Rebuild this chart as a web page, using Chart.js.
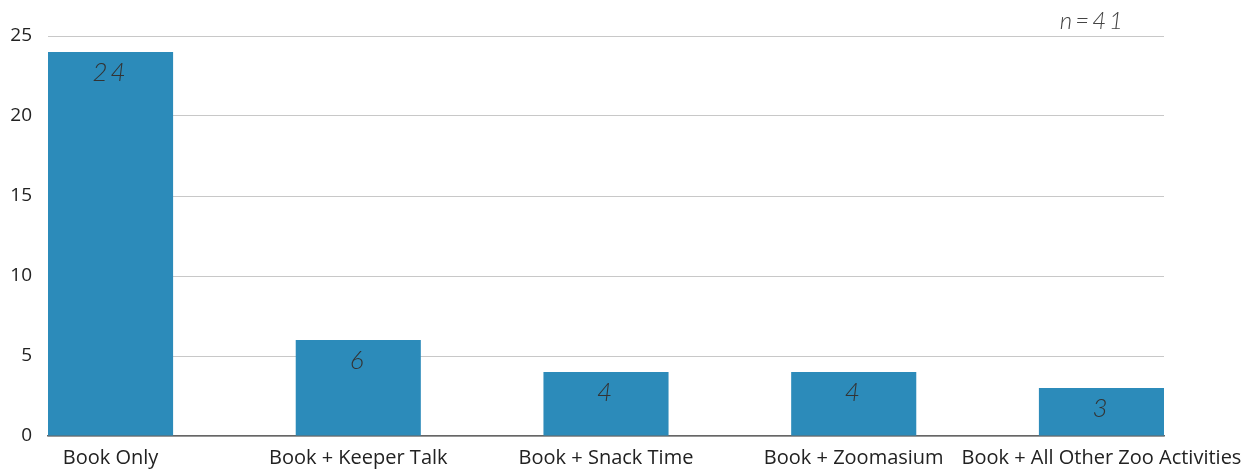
<!DOCTYPE html>
<html>
<head>
<meta charset="utf-8">
<script src="https://cdn.jsdelivr.net/npm/chart.js@4"></script>
<style>
  html, body { margin: 0; padding: 0; background: #fff; }
  #wrap { width: 1246px; height: 473px; }
</style>
</head>
<body>
<div id="wrap"><canvas id="barChart"></canvas></div>
<script>
// Chart data
const categories = ['Book Only', 'Book + Keeper Talk', 'Book + Snack Time', 'Book + Zoomasium', 'Book + All Other Zoo Activities'];
const counts = [24, 6, 4, 4, 3];
const yTicks = [0, 5, 10, 15, 20, 25];
const sampleNote = 'n=41';

// labels inside the bars + sample size note
const valueLabels = {
    id: 'valueLabels',
    afterDatasetsDraw(chart) {
        const ctx = chart.ctx;
        const meta = chart.getDatasetMeta(0);
        ctx.save();
        ctx.fillStyle = '#333';
        ctx.font = 'italic 300 26px Lato';
        ctx.textAlign = 'center';
        ctx.textBaseline = 'middle';
        if ('letterSpacing' in ctx) ctx.letterSpacing = '3px';
        meta.data.forEach((bar, i) => {
            ctx.fillText(String(counts[i]), bar.x, bar.y + 21);
        });
        ctx.font = 'italic 300 24px Lato';
        ctx.fillStyle = '#444';
        ctx.textAlign = 'right';
        ctx.fillText(sampleNote, chart.chartArea.right - 38, 21);
        ctx.restore();
    }
};

new Chart(document.getElementById('barChart').getContext('2d'), {
    type: 'bar',
    data: {
        datasets: [{
            data: counts.map((v, i) => ({ x: i, y: v })),
            backgroundColor: '#2c8bba',
            borderWidth: 0,
            barPercentage: 0.505,
            categoryPercentage: 1
        }]
    },
    options: {
        responsive: true,
        maintainAspectRatio: false,
        animation: false,
        layout: { padding: { left: 0, right: 82, top: 36, bottom: 0 } },
        scales: {
            x: {
                type: 'linear',
                min: -0.2525,
                max: 4.2525,
                offset: false,
                afterBuildTicks: scale => {
                    scale.ticks = categories.map((c, i) => ({ value: i }));
                },
                afterFit: scale => {
                    scale.height = 37;
                    scale.paddingLeft = 0;
                    scale.paddingRight = 0;
                },
                grid: { display: false, drawTicks: false },
                border: { display: true, color: '#666', width: 1.5 },
                ticks: {
                    autoSkip: false,
                    maxRotation: 0,
                    padding: 10,
                    color: '#222',
                    font: { family: 'Open Sans', size: 20 },
                    callback: v => categories[v]
                }
            },
            y: {
                min: 0,
                max: 25,
                afterBuildTicks: scale => {
                    scale.ticks = yTicks.map(v => ({ value: v }));
                },
                afterFit: scale => { scale.width = 48; },
                grid: { color: '#c8c8c8', drawTicks: false },
                border: { display: false },
                ticks: {
                    padding: 16,
                    color: '#222',
                    font: { family: 'Open Sans', size: 19 }
                }
            }
        },
        plugins: {
            legend: { display: false },
            tooltip: { enabled: false }
        }
    },
    plugins: [valueLabels]
});
</script>
</body>
</html>
